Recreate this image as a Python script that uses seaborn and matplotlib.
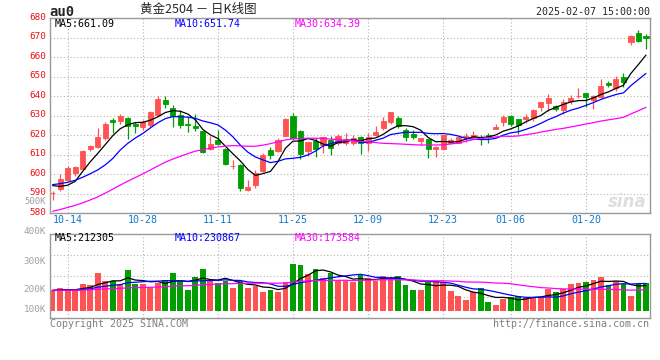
import matplotlib
matplotlib.use("Agg")
import matplotlib.pyplot as plt
from matplotlib.transforms import ScaledTranslation
import numpy as np
import pandas as pd
import seaborn as sns

# au2504 daily candles, 2024-10-10 .. 2025-02-07
opens = [590.5, 592.3, 597.3, 600.9, 602.9, 613.0, 613.8, 618.8, 627.9, 627.2,
         629.0, 626.0, 624.1, 625.1, 630.6, 638.0, 634.2, 630.6, 626.0, 624.8,
         622.1, 613.0, 617.8, 613.2, 604.4, 605.0, 592.1, 594.4, 601.9, 612.6,
         611.8, 619.8, 630.0, 622.1, 611.9, 617.3, 614.8, 617.5, 615.8, 615.8,
         615.8, 619.2, 615.8, 619.9, 623.8, 626.7, 628.9, 622.6, 620.9, 617.0,
         617.9, 612.8, 612.9, 616.2, 616.3, 618.9, 618.9, 619.0, 620.1, 623.3,
         626.7, 630.0, 628.2, 628.4, 629.0, 634.5, 636.7, 635.0, 632.9, 637.7,
         640.2, 641.6, 638.2, 639.7, 647.0, 644.3, 649.8, 667.8, 672.6, 670.9]
highs = [591.2, 600.2, 604.4, 604.2, 612.4, 615.0, 623.6, 626.7, 628.9, 631.0,
         629.3, 627.0, 628.0, 632.5, 640.0, 640.0, 635.7, 633.2, 629.4, 631.0,
         622.3, 619.7, 622.6, 613.4, 607.4, 605.5, 597.3, 602.2, 610.8, 613.8,
         618.5, 628.9, 631.5, 622.6, 616.5, 618.4, 619.2, 619.6, 620.7, 621.3,
         620.2, 619.7, 621.3, 624.7, 629.3, 632.2, 629.8, 623.8, 622.6, 618.5,
         618.1, 614.3, 620.4, 618.7, 619.4, 621.3, 622.1, 620.1, 621.3, 625.7,
         630.6, 630.6, 628.5, 630.8, 633.3, 637.2, 641.1, 635.3, 638.4, 640.6,
         644.1, 641.8, 640.6, 648.7, 647.7, 650.3, 652.0, 671.4, 674.1, 671.7]
lows = [587.0, 591.3, 596.4, 599.0, 602.0, 611.8, 613.3, 617.8, 621.0, 625.8,
        618.1, 621.0, 622.9, 624.5, 630.0, 634.0, 624.1, 623.8, 621.5, 622.0,
        610.8, 612.5, 615.2, 604.6, 602.6, 591.6, 591.5, 593.0, 601.2, 608.0,
        611.3, 619.5, 618.2, 607.6, 609.3, 608.7, 611.0, 609.9, 615.0, 614.8,
        614.8, 610.4, 612.0, 619.7, 622.6, 626.0, 623.5, 617.2, 617.9, 615.0,
        608.5, 609.0, 612.4, 615.8, 616.0, 616.6, 617.9, 615.0, 616.2, 623.0,
        624.8, 624.8, 620.9, 626.5, 627.3, 632.6, 632.6, 632.4, 630.9, 636.3,
        638.9, 634.3, 633.3, 639.0, 645.0, 642.8, 644.8, 666.1, 668.0, 664.2]
closes = [590.5, 597.6, 603.4, 603.9, 612.1, 614.7, 619.3, 626.0, 626.8, 630.1,
          624.8, 624.8, 626.8, 632.1, 638.8, 635.9, 629.7, 625.1, 625.1, 623.9,
          611.3, 615.7, 615.7, 605.5, 604.5, 592.8, 593.7, 600.7, 610.1, 610.1,
          617.8, 628.2, 618.8, 610.5, 616.5, 612.9, 619.0, 613.3, 619.7, 618.0,
          618.7, 615.8, 619.0, 621.6, 627.2, 631.7, 625.0, 619.2, 618.9, 618.4,
          612.9, 614.1, 619.9, 617.5, 619.0, 619.7, 620.1, 617.9, 619.0, 624.2,
          629.4, 626.0, 625.5, 629.4, 632.9, 637.0, 639.0, 633.4, 637.0, 639.2,
          640.3, 639.4, 640.2, 645.5, 646.0, 649.1, 647.4, 670.9, 668.3, 670.0]
# volume, thousands of lots
volumes = [174.6, 191.5, 180.2, 166.1, 225.3, 216.8, 318.2, 250.6, 250.6, 225.3,
           343.6, 225.3, 228.1, 199.9, 236.5, 259.1, 318.2, 250.6, 174.6, 284.4,
           352.0, 250.6, 233.7, 247.8, 194.3, 247.8, 191.5, 205.6, 160.5, 174.6,
           160.5, 245.0, 394.2, 385.8, 309.8, 352.0, 276.0, 315.4, 250.6, 250.6,
           242.2, 298.5, 276.0, 250.6, 295.7, 267.5, 295.7, 216.8, 174.6, 174.6,
           239.4, 250.6, 242.2, 169.0, 126.7, 92.9, 154.9, 191.5, 73.2, 47.9,
           95.7, 118.3, 123.9, 107.0, 115.5, 115.5, 183.0, 160.5, 183.0, 225.3,
           233.7, 242.2, 259.1, 284.4, 216.8, 250.6, 225.3, 126.7, 225.3, 233.7]

# sessions before the first visible day, only used by the moving averages
prev_closes = [570, 572, 572, 573, 571, 572, 568, 566, 567, 565,
               569, 570, 573, 576, 578, 581, 584, 583, 586, 588,
               592.6, 596.4, 593.9, 596.1, 597.0, 599.6, 600.4, 593.9, 586.6]
prev_volumes = [180, 168, 175, 191, 162, 158, 185, 173, 166, 180,
                195, 170, 160, 176, 182, 165, 158, 171, 189, 177,
                163, 169, 174, 160, 166, 172, 175, 168, 173]

tick_pos = [2, 12, 22, 32, 42, 52, 61, 71]
tick_labels = ["10-14", "10-28", "11-11", "11-25", "12-09", "12-23", "01-06", "01-20"]

price_ma_text = ["MA5:661.09", "MA10:651.74", "MA30:634.39"]
vol_ma_text = ["MA5:212305", "MA10:230867", "MA30:173584"]
vol_axis_text = ["400K", "300K", "200K", "100K"]

sns.set_style("white")
plt.rcParams["font.family"] = ["DejaVu Sans Mono"]

RED = "#ff5252"
GREEN = "#009e00"
MA_COLORS = {5: "black", 10: "#0000ff", 30: "#ff00ff"}
GRID = dict(color="#b4b4b4", linestyle=(0, (1, 2)), linewidth=0.8)
W, H = 660, 360

o = np.array(opens)
c = np.array(closes)
idx = np.arange(len(c))
colors = np.where(c >= o, RED, GREEN)

fig = plt.figure(figsize=(6.6, 3.6), dpi=100)
ax = fig.add_axes([50 / W, 1 - 213.3 / H, 599.5 / W, 195 / H])
axv = fig.add_axes([50 / W, 1 - 318 / H, 599.5 / W, 83.7 / H])

# candles
ax.vlines(idx, lows, highs, colors=colors, linewidth=0.9, zorder=2)
ax.bar(idx, np.abs(c - o), bottom=np.minimum(o, c), width=0.68,
       color=colors, edgecolor=colors, linewidth=0.6, zorder=2)

k = len(prev_closes)
all_close = pd.Series(prev_closes + closes)
all_vol = pd.Series(prev_volumes + volumes)
for w, col in MA_COLORS.items():
    ma = all_close.rolling(w).mean().iloc[k:].to_numpy()
    sns.lineplot(x=idx, y=ma, color=col, linewidth=0.9, ax=ax, zorder=3)

# volume
axv.bar(idx, volumes, width=0.76, color=colors, linewidth=0, zorder=2)
for w, col in MA_COLORS.items():
    ma = all_vol.rolling(w).mean().iloc[k:].to_numpy()
    sns.lineplot(x=idx, y=ma, color=col, linewidth=0.9, ax=axv, zorder=3)

xlim = (-0.35, len(c) - 1 + 0.47)
for a in (ax, axv):
    a.set_xlim(*xlim)
    a.set_xticks(tick_pos)
    a.tick_params(length=0)
    a.grid(True, **GRID)
    a.set_axisbelow(True)
    for s in a.spines.values():
        s.set_color("#999999")
        s.set_linewidth(1)

ax.set_ylim(580, 680)
ax.set_yticks(range(580, 690, 10))
ax.set_yticklabels([str(v) for v in range(580, 690, 10)], color="#ee1111", fontsize=6.7)
ax.set_xticklabels(tick_labels, color="#1478c8", fontsize=7.2)
ax.tick_params(axis="x", pad=1.5)
ax.tick_params(axis="y", pad=3)
# sina draws the price labels a little above their grid lines
lift = ScaledTranslation(0, 2 / 100, fig.dpi_scale_trans)
for lab in ax.get_yticklabels():
    lab.set_transform(lab.get_transform() + lift)

vlo, vhi = -61.7, 645.4
axv.set_ylim(vlo, vhi)
axv.set_yticks([vlo + f * (vhi - vlo) for f in (0.25, 0.5, 0.75)])
axv.set_yticklabels([])
axv.set_xticklabels([])

# labels
for x, txt, col in zip((55, 175, 295), price_ma_text, MA_COLORS.values()):
    fig.text(x / W, 1 - 24 / H, txt, color=col, fontsize=7.2, va="center")
for x, txt, col in zip((55, 175, 295), vol_ma_text, MA_COLORS.values()):
    fig.text(x / W, 1 - 238 / H, txt, color=col, fontsize=7.2, va="center")
for y, txt in zip((231, 261, 290, 310), vol_axis_text):
    fig.text(46 / W, 1 - y / H, txt, color="#a0a0a0", fontsize=6.7, ha="right", va="center")
fig.text(46 / W, 1 - 201 / H, "500K", color="#a0a0a0", fontsize=6.5, ha="right", va="center")

fig.text(49 / W, 1 - 11.5 / H, "au0", fontsize=10, fontweight="bold", va="center")
fig.text(140 / W, 1 - 9.5 / H, "黄金2504 － 日K线图", fontsize=9,
         family=["Noto Sans CJK SC", "DejaVu Sans"], va="center")
fig.text(649.5 / W, 1 - 12 / H, "2025-02-07 15:00:00", fontsize=7.2, ha="right", va="center")
fig.text(50 / W, 1 - 324 / H, "Copyright 2025 SINA.COM", color="#808080", fontsize=7.2, va="center")
fig.text(649.5 / W, 1 - 324 / H, "http://finance.sina.com.cn", color="#808080",
         fontsize=7.2, ha="right", va="center")
ax.text(0.995, 0.06, "sina", transform=ax.transAxes, ha="right", va="center",
        fontsize=12, style="italic", fontweight="bold", color="#dedede", family="DejaVu Sans")

fig.savefig("out.png", dpi=100)
